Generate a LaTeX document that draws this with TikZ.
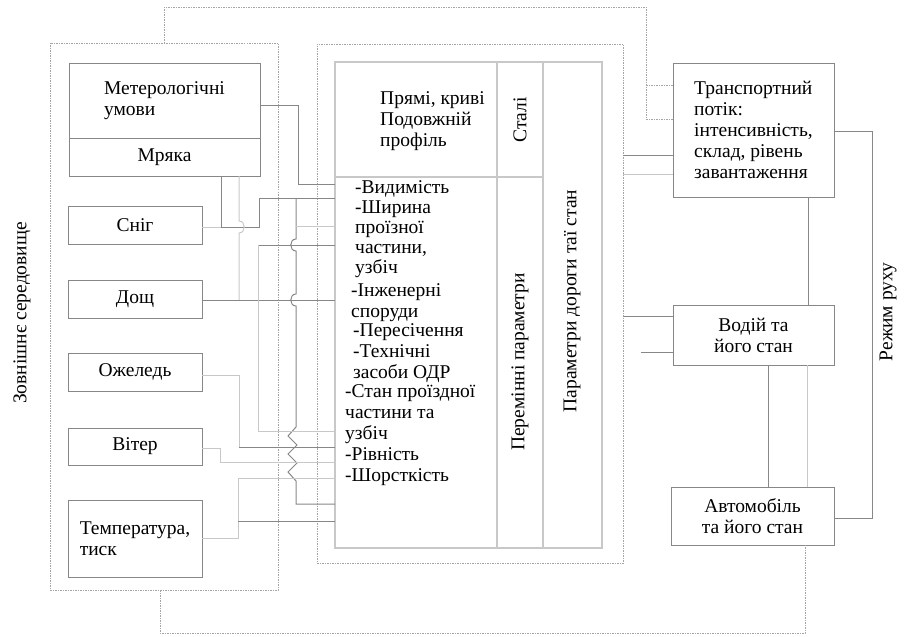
\documentclass[tikz,border=0pt]{standalone}
\usepackage{fontspec}
\setmainfont{Liberation Serif}
\usepackage{tikz}
\usetikzlibrary{positioning,calc}
\definecolor{roadDark}{RGB}{135,135,135}
\definecolor{roadLight}{RGB}{200,200,200}
\definecolor{roadFrame}{RGB}{165,165,165}

\begin{document}
\begin{tikzpicture}[
    x=1pt, y=-1pt,
    every node/.style={font=\fontsize{19.5}{21}\selectfont, text=black},
    box/.style={rectangle, draw=roadDark, line width=1pt, inner sep=0pt, outer sep=0pt, align=center},
    cell/.style={rectangle, draw=roadLight, line width=1.2pt, inner sep=0pt, outer sep=0pt},
    dotframe/.style={rectangle, draw=roadFrame, line width=0.8pt, dash pattern=on 1.5pt off 1pt, inner sep=0pt, outer sep=0pt},
    txt/.style={inner sep=0pt, align=left},
    darkLine/.style={draw=roadDark, line width=1pt},
    lightLine/.style={draw=roadLight, line width=1pt},
    dotLine/.style={draw=roadFrame, line width=0.8pt, dash pattern=on 1.5pt off 1pt}
]
    \useasboundingbox (0,0) rectangle (908,637);

    % frames
    \node[dotframe, minimum width=228, minimum height=547, anchor=north west] (envBox) at (50,43) {};
    \node[dotframe, minimum width=306, minimum height=519, anchor=north west] (roadBox) at (317,44) {};

    % weather boxes
    \node[box, minimum width=191, minimum height=75, anchor=north west, align=left] (meteo) at (69,63) {Метерологічні\\умови};
    \node[box, minimum width=191, minimum height=38, anchor=north west] (mryaka) at (69,138) {Мряка};
    \node[box, minimum width=134, minimum height=38, anchor=north west] (snig) at (68,206) {Сніг};
    \node[box, minimum width=134, minimum height=38, anchor=north west] (doshch) at (68,280) {Дощ};
    \node[box, minimum width=134, minimum height=38, anchor=north west] (ozheled) at (68,353) {Ожеледь};
    \node[box, minimum width=134, minimum height=37, anchor=north west] (viter) at (68,428) {Вітер};
    \node[box, minimum width=134, minimum height=77, anchor=north west, align=left] (temp) at (68,500) {Температура,\\тиск};
    \node[rotate=90] (envLabel) at (22,313) {Зовнішнє середовище};

    % road table
    \node[cell, minimum width=267, minimum height=486, anchor=north west] (table) at (335,62) {};
    \draw[roadLight, line width=1.2pt] (497,0 |- table.north) -- (497,0 |- table.south);
    \draw[roadLight, line width=1.2pt] (543,0 |- table.north) -- (543,0 |- table.south);
    \draw[roadLight, line width=1.2pt] (table.west |- 0,177) -- (543,177);
    \node[txt, anchor=west] (constText) at (380,121) {Прямі, криві\\Подовжній\\профіль};
    \node[rotate=90] (constLabel) at (520,120) {Сталі};
    \node[rotate=90] (varLabel) at (520,362) {Перемінні параметри};
    \node[rotate=90] (roadLabel) at (572,301) {Параметри дороги таї стан};
    \node[txt, anchor=west, font=\fontsize{19.5}{20}\selectfont] (varA) at (355,229) {-Видимість\\-Ширина\\проїзної\\частини,\\узбіч};
    \node[txt, anchor=west] (varB) at (351,303) {-Інженерні\\споруди};
    \node[txt, anchor=west] (varC) at (353,353) {-Пересічення\\-Технічні\\засоби ОДР};
    \node[txt, anchor=west] (varD) at (345,435) {-Стан проїздної\\частини та\\узбіч\\-Рівність\\-Шорсткість};

    % traffic boxes
    \node[box, minimum width=161, minimum height=134, anchor=north west, align=left] (trans) at (673,63) {Транспортний\\потік:\\інтенсивність,\\склад, рівень\\завантаження};
    \node[box, minimum width=161, minimum height=60, anchor=north west] (driver) at (673,305) {Водій та\\його стан};
    \node[box, minimum width=163, minimum height=58, anchor=north west] (car) at (671,487) {Автомобіль\\та його стан};
    \node[rotate=90] (modeLabel) at (888,312) {Режим руху};

    % junctions
    \coordinate (jWidth) at (296,198);
    \coordinate (jBridge) at (258,245);
    \coordinate (jTemp) at (238,521);

    % weather to road
    \draw[darkLine] (meteo.east |- 0,105) -| (298,184) -- (table.west |- 0,184);
    \draw[darkLine] (221,0 |- mryaka.south) -- (221,227);
    \draw[lightLine] (snig.east |- 0,227) -- (221,227);
    \draw[darkLine] (221,227) -- (259,227) |- (table.west |- 0,198);
    \draw[lightLine] (239,0 |- mryaka.south) -- (239,221) .. controls (246,221) and (246,233) .. (239,233) -- (239,300);
    \draw[darkLine] (doshch.east |- 0,300) -- (table.west |- 0,300);
    \draw[darkLine] (jWidth) -- (296,239) .. controls (289,239) and (289,251) .. (296,251)
        -- (296,294) .. controls (289,294) and (289,306) .. (296,306)
        -- (296,427) -- (288,436) -- (297,445) -- (288,454) -- (297,463) -- (288,472) -- (296,481)
        |- (table.west |- 0,504);
    \draw[lightLine] (296,226) -- (table.west |- 0,226);
    \draw[darkLine] (table.west |- 0,245) -- (jBridge);
    \draw[lightLine] (jBridge) |- (table.west |- 0,431);
    \draw[lightLine] (ozheled.east |- 0,375) -| (239,447);
    \draw[darkLine] (239,447) -- (table.west |- 0,447);
    \draw[lightLine] (viter.east |- 0,448) -- (220,448) |- (table.west |- 0,462);
    \draw[lightLine] (temp.east) -| (238,478) -- (table.west |- 0,478);
    \draw[darkLine] (jTemp) -- (table.west |- 0,521);

    % road to traffic
    \draw[darkLine] (roadBox.east |- 0,155) -- (trans.west |- 0,155);
    \draw[lightLine] (roadBox.east |- 0,174) -- (trans.west |- 0,174);
    \draw[darkLine] (roadBox.east |- 0,316) -- (driver.west |- 0,316);
    \draw[darkLine] (641,352) -- (driver.west |- 0,352);
    \draw[darkLine] (trans.east |- 0,131) -- (872,131) |- (car.east |- 0,518);
    \draw[darkLine] (808,0 |- trans.south) -- (808,0 |- driver.north);
    \draw[darkLine] (768,0 |- driver.south) -- (768,0 |- car.north);
    \draw[lightLine] (807,0 |- driver.south) -- (807,0 |- car.north);

    % feedback loops
    \draw[dotLine] (164,0 |- envBox.north) -- (164,7) -| (646,119) -- (trans.west |- 0,119);
    \draw[dotLine] (646,85) -- (trans.west |- 0,85);
    \draw[dotLine] (160,0 |- envBox.south) -- (160,633) -| (805,0 |- car.south);
\end{tikzpicture}
\end{document}
